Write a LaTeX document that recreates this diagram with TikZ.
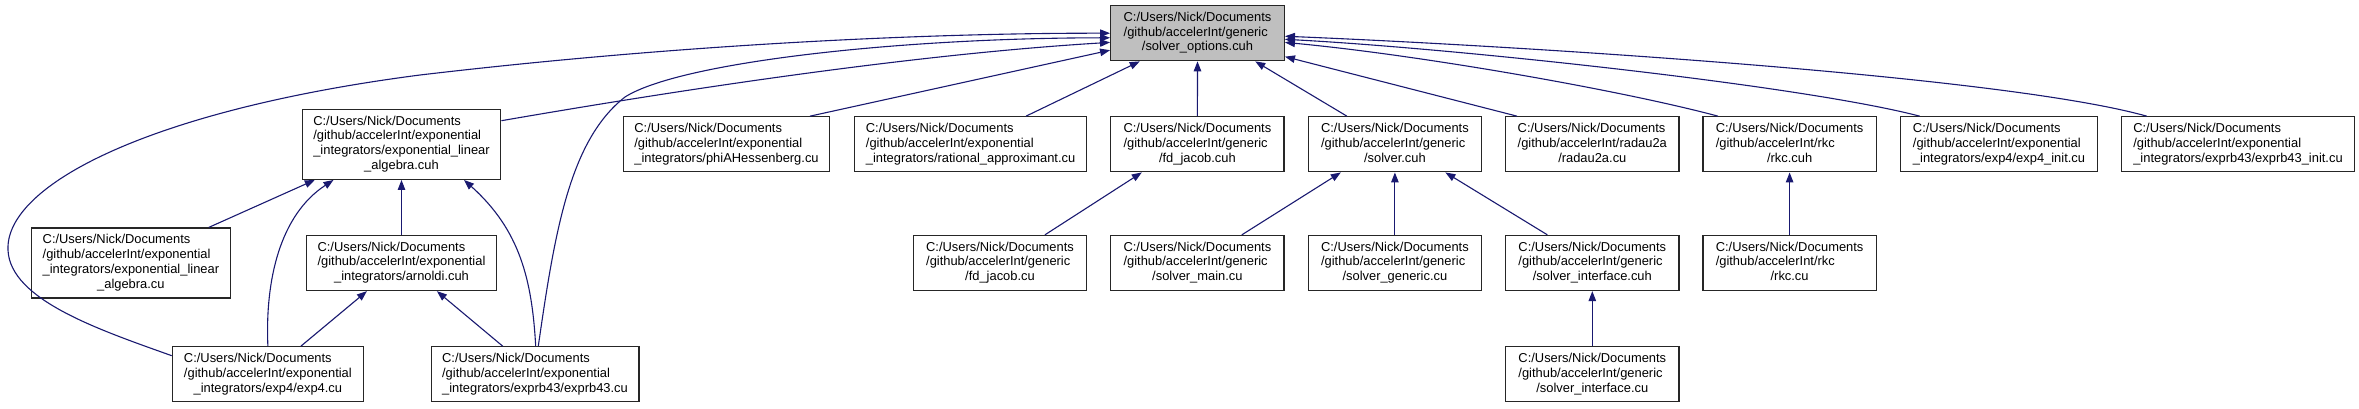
\documentclass[tikz,border=0pt]{standalone}
\usepackage{fontspec}
\setmainfont{Liberation Sans}
\usetikzlibrary{arrows.meta,calc}
\definecolor{edgeblue}{HTML}{191970}
\definecolor{topgray}{HTML}{BFBFBF}
\newcommand{\tlbl}[3]{\begin{tabular}{@{}l@{}}#1\\#2\\\multicolumn{1}{@{}c@{}}{#3}\end{tabular}}
\newcommand{\flbl}[4]{\begin{tabular}{@{}l@{}}#1\\#2\\#3\\\multicolumn{1}{@{}c@{}}{#4}\end{tabular}}
\newcommand{\cud}{C:/Users/Nick/Documents}
\newcommand{\gex}{/github/accelerInt/exponential}
\newcommand{\gge}{/github/accelerInt/generic}
\begin{document}
\begin{tikzpicture}[x=1pt,y=-1pt,
  box/.style={draw=black!85, line width=1.3pt, fill=white, inner sep=0pt,
    font=\fontsize{12.9}{14.8}\selectfont, minimum height=55pt},
  fourbox/.style={box, minimum height=70pt},
  conn/.style={draw=edgeblue, line width=1.1pt, -{Triangle[length=10pt,width=7.5pt]}},
]
\useasboundingbox (0,0) rectangle (2359,408);
% row 1
\node[box, fill=topgray, minimum width=173.6pt] (so) at (1197.5,33.2) {\tlbl{\cud}{\gge}{/solver\_options.cuh}};
% row 2
\node[fourbox, minimum width=198.5pt] (elah) at (401.5,144.3) {\flbl{\cud}{\gex}{\_integrators/exponential\_linear}{\_algebra.cuh}};
\node[box, minimum width=206pt] (phi) at (726.5,144.3) {\tlbl{\cud}{\gex}{\_integrators/phiAHessenberg.cu}};
\node[box, minimum width=232pt] (rat) at (970.6,144.3) {\tlbl{\cud}{\gex}{\_integrators/rational\_approximant.cu}};
\node[box, minimum width=173.4pt] (fdh) at (1197.4,144.3) {\tlbl{\cud}{\gge}{/fd\_jacob.cuh}};
\node[box, minimum width=173.4pt] (sol) at (1394.9,144.3) {\tlbl{\cud}{\gge}{/solver.cuh}};
\node[box, minimum width=173.4pt] (rad) at (1592.3,144.3) {\tlbl{\cud}{/github/accelerInt/radau2a}{/radau2a.cu}};
\node[box, minimum width=173.4pt] (rkch) at (1789.6,144.3) {\tlbl{\cud}{/github/accelerInt/rkc}{/rkc.cuh}};
\node[box, minimum width=196.4pt] (e4i) at (1999,144.3) {\tlbl{\cud}{\gex}{\_integrators/exp4/exp4\_init.cu}};
\node[box, minimum width=232.7pt] (e43i) at (2238,144.3) {\tlbl{\cud}{\gex}{\_integrators/exprb43/exprb43\_init.cu}};
% row 3
\node[fourbox, minimum width=198.5pt] (elac) at (130.9,263) {\flbl{\cud}{\gex}{\_integrators/exponential\_linear}{\_algebra.cu}};
\node[box, minimum width=190.3pt] (arn) at (401.5,263) {\tlbl{\cud}{\gex}{\_integrators/arnoldi.cuh}};
\node[box, minimum width=173.4pt] (fdc) at (1000,263) {\tlbl{\cud}{\gge}{/fd\_jacob.cu}};
\node[box, minimum width=173.4pt] (smain) at (1197.4,263) {\tlbl{\cud}{\gge}{/solver\_main.cu}};
\node[box, minimum width=173.4pt] (sgen) at (1394.9,263) {\tlbl{\cud}{\gge}{/solver\_generic.cu}};
\node[box, minimum width=173.4pt] (sifh) at (1592.3,263) {\tlbl{\cud}{\gge}{/solver\_interface.cuh}};
\node[box, minimum width=173.4pt] (rkcc) at (1789.6,263) {\tlbl{\cud}{/github/accelerInt/rkc}{/rkc.cu}};
% row 4
\node[box, minimum width=191pt] (e4) at (267.9,374.3) {\tlbl{\cud}{\gex}{\_integrators/exp4/exp4.cu}};
\node[box, minimum width=207.7pt] (e43) at (535,374.3) {\tlbl{\cud}{\gex}{\_integrators/exprb43/exprb43.cu}};
\node[box, minimum width=173.4pt] (sifc) at (1592.3,374.3) {\tlbl{\cud}{\gge}{/solver\_interface.cu}};
% edges to solver_options
\draw[conn] ([yshift=18.6pt]e4.west) .. controls (100,330) and (10,300) .. (8,250) .. controls (5,185) and (150,110) .. (420,75) .. controls (700,42) and (950,33) .. (so.west);
\draw[conn] ([xshift=3.3pt]e43.north) .. controls (555,230) and (570,140) .. (625,97) .. controls (680,62) and (900,38) .. (so.183);
\draw[conn] ([yshift=23.6pt]elah.east) .. controls (650,95) and (900,55) .. (so.186);
\draw[conn] ([xshift=83.5pt]phi.north) -- (so.191);
\draw[conn] ([xshift=55.4pt]rat.north) -- (so.206);
\draw[conn] (fdh.north) -- (so.south);
\draw[conn] ([xshift=-48pt]sol.north) -- (so.334);
\draw[conn] ([xshift=-75.3pt]rad.north) -- (so.345);
\draw[conn] ([xshift=-71.6pt]rkch.north) .. controls (1620,90) and (1420,55) .. (so.354);
\draw[conn] ([xshift=-79.3pt]e4i.north) .. controls (1800,85) and (1450,48) .. (so.356);
\draw[conn] ([xshift=-91.3pt]e43i.north) .. controls (2000,75) and (1500,45) .. (so.358);
% lower edges
\draw[conn] ([xshift=78pt]elac.north) -- ([xshift=-86.7pt]elah.south);
\draw[conn] (e4.north) .. controls (265,280) and (280,215) .. ([xshift=-68pt]elah.south);
\draw[conn] (arn.north) -- (elah.south);
\draw[conn] ([xshift=0.7pt]e43.north) .. controls (532,280) and (520,230) .. ([xshift=62.5pt]elah.south);
\draw[conn] ([xshift=33pt]e4.north) -- ([xshift=-34.6pt]arn.south);
\draw[conn] ([xshift=-32.3pt]e43.north) -- ([xshift=35.4pt]arn.south);
\draw[conn] ([xshift=44.9pt]fdc.north) -- ([xshift=-55.6pt]fdh.south);
\draw[conn] ([xshift=44.4pt]smain.north) -- ([xshift=-54.1pt]sol.south);
\draw[conn] (sgen.north) -- (sol.south);
\draw[conn] ([xshift=-44.9pt]sifh.north) -- ([xshift=50.5pt]sol.south);
\draw[conn] (sifc.north) -- (sifh.south);
\draw[conn] (rkcc.north) -- (rkch.south);
\end{tikzpicture}
\end{document}
